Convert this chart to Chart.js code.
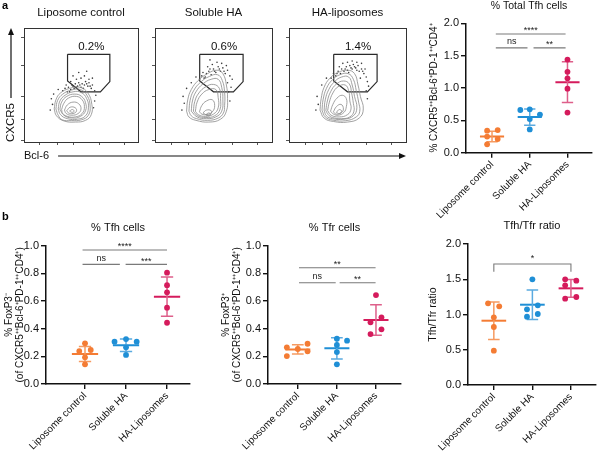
<!DOCTYPE html>
<html><head><meta charset="utf-8">
<script src="https://cdn.jsdelivr.net/npm/chart.js@4.4.1/dist/chart.umd.min.js"></script>
<style>
html,body{margin:0;padding:0;background:#fff;}
#wrap{position:relative;width:600px;height:457px;overflow:hidden;background:#fff;}
canvas{position:absolute;}
</style></head><body>
<div id="wrap">
<canvas id="flow1" width="410" height="165" style="left:0;top:0"></canvas>
<canvas id="flow2" width="410" height="165" style="left:0;top:0"></canvas>
<canvas id="flow3" width="410" height="165" style="left:0;top:0"></canvas>
<canvas id="tfhTotal" width="200" height="245" style="left:400px;top:0"></canvas>
<canvas id="tfh" width="200" height="257" style="left:0;top:200px"></canvas>
<canvas id="tfr" width="205" height="257" style="left:200px;top:200px"></canvas>
<canvas id="ratio" width="195" height="257" style="left:405px;top:200px"></canvas>
</div>
<script>
// ---------- data ----------
const groups = ['Liposome control', 'Soluble HA', 'HA-Liposomes'];
const groupColors = ['#F47C34', '#1F8FD6', '#D51B5C'];
const errColors = ['#F69A60', '#5AAAE0', '#DE5F8A'];

// % Total Tfh cells
const totalVals = [[0.35, 0.34, 0.25, 0.21, 0.13], [0.67, 0.66, 0.59, 0.52, 0.36], [1.44, 1.25, 1.15, 0.99, 0.62]];
const totalSwarm = [[0.15, -0.13, -0.13, 0.15, -0.13], [0, -0.25, 0.27, 0, 0], [0, 0, 0, 0, 0]];
const totalMean = [0.25, 0.55, 1.09];
const totalSD = [0.08, 0.125, 0.315];
const totalTicks = [0, 0.5, 1.0, 1.5, 2.0];
const totalSig = [{from: 0.1, to: 1.95, y: 1.835, text: '****'}, {from: 0.1, to: 0.94, y: 1.62, text: 'ns'}, {from: 1.1, to: 1.95, y: 1.62, text: '**'}];

// % Tfh cells
const tfhVals = [[0.294, 0.238, 0.246, 0.193, 0.142], [0.306, 0.325, 0.306, 0.265, 0.21], [0.805, 0.714, 0.663, 0.552, 0.443]];
const tfhSwarm = [[0, -0.14, 0.14, 0, 0], [-0.28, 0, 0.26, 0, 0], [0, 0, 0, 0, 0]];
const tfhMean = [0.217, 0.28, 0.631];
const tfhSD = [0.055, 0.045, 0.142];
const fracTicks = [0, 0.2, 0.4, 0.6, 0.8, 1.0];
const tfhSig = [{from: -0.06, to: 2.0, y: 0.969, text: '****'}, {from: -0.06, to: 0.85, y: 0.865, text: 'ns'}, {from: 0.99, to: 2.0, y: 0.865, text: '***'}];

// % Tfr cells
const tfrVals = [[0.265, 0.253, 0.291, 0.236, 0.202], [0.328, 0.313, 0.282, 0.231, 0.142], [0.643, 0.482, 0.446, 0.395, 0.361]];
const tfrSwarm = [[-0.28, 0, 0.25, 0.25, -0.28], [0, 0.26, 0, 0, 0], [0, 0.14, -0.14, 0.14, -0.14]];
const tfrMean = [0.25, 0.258, 0.463];
const tfrSD = [0.033, 0.077, 0.11];
const tfrSig = [{from: 0.03, to: 1.99, y: 0.841, text: '**'}, {from: 0.03, to: 0.97, y: 0.732, text: 'ns'}, {from: 1.07, to: 1.99, y: 0.732, text: '**'}];

// Tfh/Tfr ratio
const ratioVals = [[1.159, 1.116, 0.96, 0.823, 0.487], [1.499, 1.13, 1.074, 1.007, 0.969], [1.499, 1.48, 1.414, 1.224, 1.248]];
const ratioSwarm = [[-0.15, 0.14, 0, 0, 0], [0, 0.14, -0.14, 0.14, -0.14], [-0.15, 0.14, -0.15, -0.15, 0.14]];
const ratioMean = [0.912, 1.139, 1.371];
const ratioSD = [0.266, 0.209, 0.127];
const ratioSig = [{from: 0, to: 2, y: 1.716, drop: 0.109, text: '*'}];

// flow cytometry panels (arbitrary 0-100 display units)
const flowTitles = ['Liposome control', 'Soluble HA', 'HA-liposomes'];
const flowPct = ['0.2%', '0.6%', '1.4%'];
const flowXTicks = [14, 29, 43, 66, 88];
const flowYTicks = [1.75, 19.9, 39.7, 67.5, 92];
const gate = [[38.2, 76.9], [75.3, 76.9], [75.3, 53], [67, 44], [50, 44], [38.2, 53.5], [38.2, 76.9]];
const contoursLipo = [
  [[26.5,29],[28,37],[32,43],[40,47],[49,48],[56,43],[59.5,33],[59,24],[54,19],[45,17.5],[35,18.5],[28.5,23]],
  [[28,29],[29.5,36.5],[34,42],[41.5,45.5],[49.5,46],[55.5,40.5],[58,31.5],[56.5,23.5],[50.5,19.5],[41.5,18.8],[33.5,19.5],[30,23.5]],
  [[30,29],[31.5,36],[36,41],[43,44],[50,43.5],[55,38],[56.5,30],[54,23],[47,20],[38,20.5],[32,24]],
  [[31.5,28.8],[33,35],[37.5,40],[44.5,42],[50.5,40],[54,34.5],[54,27.5],[49.5,22.5],[42.5,21],[35,23.5]],
  [[33,28.5],[35,34],[39,38.5],[46,40],[51,37],[53,31],[51,25],[45,22],[38,22.5],[34,25]],
  [[35.5,28],[38,32.5],[43,35],[48,33.5],[50,29],[47.5,25],[42,23.5],[37,25]],
  [[37.5,27.5],[40.5,30.5],[45,30],[46,27],[43,25],[39,25.5]],
  [[40,27.2],[42.5,28.5],[44,27],[42,26]]
];
const contoursSoluble = [
  [[27,27],[28,37],[31,46],[37,54],[45,60],[53,63],[58,60],[61,50],[62,38],[61,27],[56,20],[46,17.5],[35,19],[29,22]],
  [[29,27],[30,36.5],[33,45],[39,52.5],[46.5,57.5],[53.5,59],[57.5,54],[59.5,43.5],[59.5,32],[58.5,25.5],[54,21],[45,19],[35.5,20.5],[31,23]],
  [[31,27],[32,36],[35,44],[41,51],[48,55],[54,55],[57,48],[58,37],[57,27],[52,22],[44,20.5],[36,22]],
  [[32.8,27],[34,35.5],[37.5,43],[43.5,48.5],[50,50.5],[55,47],[56,38],[55.5,28.5],[51,23],[43.5,21.5],[36.5,23]],
  [[34.5,27],[36,35],[40,42],[46,46],[52,46],[54,39],[54,30],[50,24.5],[43,22.5],[37,24]],
  [[38,26.5],[40,32],[44,36],[49,37],[51,32],[49,26.5],[44,24],[40,24.5]],
  [[41,25.5],[44,28],[48,27.5],[48,25],[45,23.5]],
  [[43.5,24],[46,25.5],[47.5,24],[45.5,23]]
];
const contoursHA = [
  [[26.5,28],[27.5,38],[30,48],[35,56],[42,61],[50,63],[56,60],[59,50],[61,40],[63.5,29],[60,21],[50,17.5],[38,18],[30,21]],
  [[28.2,28],[29.2,37.5],[32,47],[37,54.5],[43.5,59],[50.5,60],[55,55],[57.5,45],[59.5,35],[60.5,27],[57.5,22],[48.5,18.7],[37.5,19.2],[31,22]],
  [[30,28],[31,37],[34,46],[39,53],[45,57],[51,57],[54,50],[56,40],[58,30],[55,23],[47,20],[37,20.5],[32,23]],
  [[31.5,27.7],[32.8,36],[35.8,44.5],[40.5,50.8],[46.5,53.5],[51.5,51],[53.5,43],[55,34],[55.5,27],[52,22],[45,20.5],[37,21.5],[33.5,24]],
  [[33,27.5],[34.5,35],[37.5,43],[42,48.5],[48,50],[51,45],[52,36],[53,29],[50,24],[43,22],[36,23.5]],
  [[35.5,27],[37.5,33],[41,38.5],[45.5,41],[49,38],[49,31],[47,26],[42,23.5],[38,24.5]],
  [[38,26.5],[40.5,31],[44.5,33],[46.5,29],[44.5,25.5],[40,24.5]],
  [[40.5,26],[43,28.5],[45,27],[43,25]]
];
const eventsLipo = [[34,45],[36,47],[38,44],[39,48],[41,46],[42,50],[44,47],[45,51],[47,49],[48,52],[50,48],[51,51],[53,50],[54,53],[56,49],[57,52],[59,47],[60,50],[62,45],[46,55],[50,56],[53,58],[57,55],[43,58],[48,61],[55,62],[41,53],[60,56],[63,41],[24,38],[25,33],[26,42],[23,28],[30,46],[61,30],[62,36],[37,50],[40,44],[43,49],[49,50],[52,47],[55,51],[58,49],[46,48]];
const eventsSoluble = [[38,55],[40,58],[42,56],[44,60],[46,62],[48,59],[50,64],[52,61],[54,66],[56,62],[58,65],[60,60],[62,63],[64,58],[66,55],[45,66],[49,68],[53,70],[57,69],[61,67],[47,72],[62,52],[65,48],[24,40],[25,34],[23,28],[27,47],[31,52],[35,57],[63,44],[64,36],[41,61],[51,62],[55,64],[59,62],[47,64],[43,57]];
const eventsHA = [[36,56],[38,60],[40,58],[42,62],[44,60],[45,64],[47,62],[49,66],[50,63],[52,67],[54,64],[55,68],[57,65],[59,67],[60,62],[62,64],[64,60],[66,57],[67,53],[68,49],[46,69],[50,70],[54,71],[58,70],[62,69],[43,66],[65,64],[61,56],[66,45],[67,38],[24,40],[25,33],[23,28],[28,50],[32,56],[48,64],[53,65],[56,66],[58,63],[63,62],[41,60],[51,61]];

// ---------- setup ----------
const FONT = "'Liberation Sans', Arial, Helvetica, sans-serif";
Chart.defaults.font.family = FONT;
Chart.defaults.color = '#111';

const annotPlugin = {
  id: 'annot',
  afterDraw(chart, args, opts) {
    const ctx = chart.ctx, xs = chart.scales.x, ys = chart.scales.y;
    (opts.texts || []).forEach(t => {
      ctx.save();
      ctx.font = (t.bold ? 'bold ' : '') + (t.size || 9) + 'px ' + FONT;
      ctx.fillStyle = t.color || '#222';
      ctx.textAlign = t.align || 'center';
      ctx.textBaseline = 'alphabetic';
      const px = t.px != null ? t.px : xs.getPixelForValue(t.x);
      const py = t.py != null ? t.py : ys.getPixelForValue(t.y) + (t.dy || 0);
      ctx.fillText(t.text, px, py);
      ctx.restore();
    });
    const d = opts.decor;
    if (d) {
      const a = chart.chartArea;
      ctx.save();
      ctx.strokeStyle = '#111'; ctx.fillStyle = '#111'; ctx.lineWidth = 1.2;
      ctx.font = d.ySize + 'px ' + FONT;
      const yw = ctx.measureText(d.yText).width;
      const vx = d.yArrowX, vTop = a.top, vBottom = a.bottom - yw - 5;
      ctx.beginPath(); ctx.moveTo(vx, vBottom); ctx.lineTo(vx, vTop + 5); ctx.stroke();
      ctx.beginPath(); ctx.moveTo(vx, vTop); ctx.lineTo(vx - 3, vTop + 7); ctx.lineTo(vx + 3, vTop + 7); ctx.closePath(); ctx.fill();
      ctx.font = d.xSize + 'px ' + FONT;
      const xw = ctx.measureText(d.xText).width;
      const hy = d.xArrowY, hStart = a.left + xw + 9, hEnd = d.xArrowEnd;
      ctx.beginPath(); ctx.moveTo(hStart, hy); ctx.lineTo(hEnd - 5, hy); ctx.stroke();
      ctx.beginPath(); ctx.moveTo(hEnd, hy); ctx.lineTo(hEnd - 7, hy - 3); ctx.lineTo(hEnd - 7, hy + 3); ctx.closePath(); ctx.fill();
      ctx.restore();
    }
  }
};
Chart.register(annotPlugin);

const MEAN_HALF = 0.32, CAP_HALF = 0.15;

function sigDataset(sig) {
  const pts = [];
  sig.forEach(s => {
    if (s.drop) pts.push({x: s.from, y: s.y - s.drop});
    pts.push({x: s.from, y: s.y}, {x: s.to, y: s.y});
    if (s.drop) pts.push({x: s.to, y: s.y - s.drop});
    pts.push({x: s.to, y: null});
  });
  return {data: pts, showLine: true, spanGaps: false, pointRadius: 0, borderColor: '#7a7a7a', borderWidth: 1.1, order: 2};
}
function sigTexts(sig) {
  return sig.map(s => ({text: s.text, x: (s.from + s.to) / 2, y: s.y, dy: s.text.indexOf('*') >= 0 ? (s.drop ? -3 : -0.5) : -3.5, size: 9}));
}

function dotPlot(id, d) {
  const datasets = [];
  groups.forEach((g, i) => {
    const m = d.mean[i], s = d.sd[i];
    datasets.push({data: d.values[i].map((v, k) => ({x: i + d.swarm[i][k], y: v})), showLine: false,
      pointRadius: 2.9, pointBackgroundColor: groupColors[i], pointBorderWidth: 0, order: 0});
    datasets.push({data: [{x: i - CAP_HALF, y: m + s}, {x: i + CAP_HALF, y: m + s}, {x: i, y: null},
      {x: i, y: m + s}, {x: i, y: m - s}, {x: i, y: null}, {x: i - CAP_HALF, y: m - s}, {x: i + CAP_HALF, y: m - s}],
      showLine: true, spanGaps: false, pointRadius: 0, borderColor: errColors[i], borderWidth: 1.5, order: 1});
    datasets.push({data: [{x: i - MEAN_HALF, y: m}, {x: i + MEAN_HALF, y: m}], showLine: true, pointRadius: 0,
      borderColor: groupColors[i], borderWidth: 2, order: 1});
  });
  datasets.push(sigDataset(d.sig));
  return new Chart(document.getElementById(id), {
    type: 'scatter',
    data: {datasets},
    options: {
      responsive: false, animation: false, devicePixelRatio: 1,
      layout: {padding: d.pad},
      plugins: {
        legend: {display: false}, tooltip: {enabled: false},
        title: {display: true, text: d.title, fullSize: false, color: '#111',
          font: {size: d.titleSize, weight: 'normal', lineHeight: 1.2}, padding: d.titlePad},
        annot: {texts: sigTexts(d.sig).concat(d.extraTexts || [])}
      },
      scales: {
        x: {type: 'linear', min: d.xmin, max: d.xmax,
          afterBuildTicks: ax => { ax.ticks = groups.map((_, i) => ({value: i})); },
          afterFit: s => { s.height = d.xh; },
          ticks: {autoSkip: false, minRotation: 45, maxRotation: 45, font: {size: 10}, color: '#111', padding: 1,
            callback: v => groups[v]},
          grid: {drawOnChartArea: false, drawTicks: true, tickLength: 5, color: '#111', lineWidth: 1.4},
          border: {display: true, color: '#111', width: 1.5}},
        y: {type: 'linear', min: 0, max: d.ymax,
          afterBuildTicks: ax => { ax.ticks = d.yticks.map(v => ({value: v})); },
          afterFit: s => { s.width = d.yw; },
          ticks: {font: {size: 11}, color: '#111', padding: 2, callback: v => v.toFixed(1)},
          grid: {drawOnChartArea: false, drawTicks: true, tickLength: 5, color: '#111', lineWidth: 1.4},
          border: {display: true, color: '#111', width: 1.5},
          title: {display: true, text: d.ytitle, color: '#111', font: {size: d.ytSize, lineHeight: d.ytLH},
            padding: {top: d.ytPad, bottom: 0}}}
      }
    }
  });
}

dotPlot('tfhTotal', {values: totalVals, swarm: totalSwarm, mean: totalMean, sd: totalSD, sig: totalSig,
  title: '% Total Tfh cells', titleSize: 10.5, titlePad: {top: 0, bottom: 10.7},
  pad: {left: 0, right: 8, top: 0, bottom: 0}, xmin: -0.69, xmax: 2.65, xh: 92.3, ymax: 2, yticks: totalTicks, yw: 66,
  ytitle: '% CXCR5\u207A\u207ABcl-6\u207APD-1\u207A\u207ACD4\u207A', ytSize: 10, ytLH: 1.2, ytPad: 28});

dotPlot('tfh', {values: tfhVals, swarm: tfhSwarm, mean: tfhMean, sd: tfhSD, sig: tfhSig,
  title: '% Tfh cells', titleSize: 11, titlePad: {top: 21.4, bottom: 11.1},
  pad: {left: 0, right: 10, top: 0, bottom: 0}, xmin: -0.951, xmax: 2.56, xh: 73, ymax: 1, yticks: fracTicks, yw: 46,
  ytitle: ['% FoxP3\u207B', '(of CXCR5\u207A\u207ABcl-6\u207APD-1\u207A\u207ACD4\u207A)'], ytSize: 10, ytLH: 1.1, ytPad: 3.5,
  extraTexts: [{text: 'b', px: 2, py: 20, align: 'left', bold: true, size: 11, color: '#000'}]});

dotPlot('tfr', {values: tfrVals, swarm: tfrSwarm, mean: tfrMean, sd: tfrSD, sig: tfrSig,
  title: '% Tfr cells', titleSize: 11, titlePad: {top: 21.4, bottom: 11.1},
  pad: {left: 0, right: 3, top: 0, bottom: 0}, xmin: -0.762, xmax: 2.64, xh: 73, ymax: 1, yticks: fracTicks, yw: 68,
  ytitle: ['% FoxP3\u207A', '(of CXCR5\u207A\u207ABcl-6\u207APD-1\u207A\u207ACD4\u207A)'], ytSize: 10, ytLH: 1.1, ytPad: 20.5});

dotPlot('ratio', {values: ratioVals, swarm: ratioSwarm, mean: ratioMean, sd: ratioSD, sig: ratioSig,
  title: 'Tfh/Tfr ratio', titleSize: 11, titlePad: {top: 19.4, bottom: 11.4},
  pad: {left: 0, right: 2, top: 0, bottom: 0}, xmin: -0.67, xmax: 2.65, xh: 72, ymax: 2, yticks: totalTicks, yw: 63,
  ytitle: 'Tfh/Tfr ratio', ytSize: 10.5, ytLH: 1.2, ytPad: 21.7});

function flowChart(id, k, f) {
  const datasets = [];
  f.contours.forEach(ring => datasets.push({data: ring.concat([ring[0]]).map(p => ({x: p[0], y: p[1]})),
    showLine: true, pointRadius: 0, borderColor: '#8a8a8a', borderWidth: 0.8, tension: 0.45}));
  datasets.push({data: f.events.map(p => ({x: p[0], y: p[1]})), showLine: false, pointRadius: 0.8,
    pointBackgroundColor: '#3c3c3c', pointBorderWidth: 0});
  datasets.push({data: gate.map(p => ({x: p[0], y: p[1]})), showLine: true, pointRadius: 0,
    borderColor: '#2a2a2a', borderWidth: 1.2, tension: 0});
  const texts = [{text: flowPct[k], x: 59, y: 84, size: 11.5, color: '#111', dy: 4}];
  if (f.first) texts.push({text: 'a', px: 2, py: 9, align: 'left', bold: true, size: 11, color: '#000'});
  const tickGrid = {drawOnChartArea: false, drawTicks: true, tickLength: 3, color: '#555', lineWidth: 1};
  return new Chart(document.getElementById(id), {
    type: 'scatter',
    data: {datasets},
    options: {
      responsive: false, animation: false, devicePixelRatio: 1,
      layout: {padding: f.pad},
      plugins: {
        legend: {display: false}, tooltip: {enabled: false},
        title: {display: true, text: flowTitles[k], fullSize: false, color: '#111',
          font: {size: 11.5, weight: 'normal', lineHeight: 1.2}, padding: {top: 6.4, bottom: 7.8}},
        annot: {texts, decor: f.first ? {yText: 'CXCR5', ySize: 11.5, yArrowX: 11, xText: 'Bcl-6', xSize: 11, xArrowY: 156, xArrowEnd: 406} : null}
      },
      scales: {
        x: {type: 'linear', min: 0, max: 100,
          afterBuildTicks: ax => { ax.ticks = flowXTicks.map(v => ({value: v})); },
          afterFit: s => { s.height = 23; },
          ticks: {display: false}, grid: tickGrid, border: {display: true, color: '#333', width: 1},
          title: {display: !!f.first, text: 'Bcl-6', align: 'start', color: '#111', font: {size: 11, lineHeight: 1.2}, padding: {top: 0, bottom: 2.4}}},
        y: {type: 'linear', min: 0, max: 100,
          afterBuildTicks: ax => { ax.ticks = flowYTicks.map(v => ({value: v})); },
          afterFit: s => { s.width = f.yw; },
          ticks: {display: false}, grid: tickGrid, border: {display: true, color: '#333', width: 1},
          title: {display: !!f.first, text: 'CXCR5', align: 'start', color: '#111', font: {size: 11.5, lineHeight: 1.2}, padding: {top: 4.1, bottom: 0}}},
        x2: {type: 'linear', position: 'top', min: 0, max: 1, afterFit: s => { s.height = 0; },
          ticks: {display: false}, grid: {drawOnChartArea: false, drawTicks: false}, border: {display: true, color: '#333', width: 1}},
        y2: {type: 'linear', position: 'right', min: 0, max: 1, afterFit: s => { s.width = 0; },
          ticks: {display: false}, grid: {drawOnChartArea: false, drawTicks: false}, border: {display: true, color: '#333', width: 1}}
      }
    }
  });
}

flowChart('flow1', 0, {contours: contoursLipo, events: eventsLipo, first: true, yw: 24, pad: {left: 0, right: 272, top: 0, bottom: 0}});
flowChart('flow2', 1, {contours: contoursSoluble, events: eventsSoluble, yw: 10, pad: {left: 145, right: 138, top: 0, bottom: 0}});
flowChart('flow3', 2, {contours: contoursHA, events: eventsHA, yw: 10, pad: {left: 279, right: 4, top: 0, bottom: 0}});
</script>
</body></html>
